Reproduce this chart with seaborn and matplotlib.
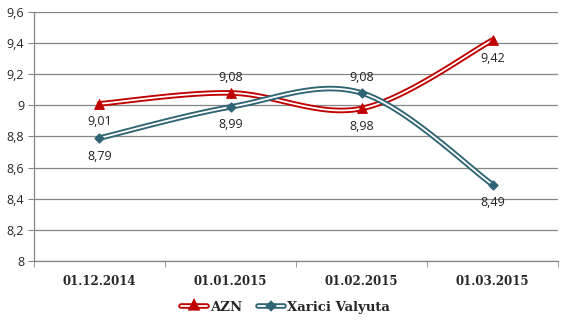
import numpy as np
import matplotlib
matplotlib.use("Agg")
import matplotlib.pyplot as plt
import matplotlib.patheffects as pe
from matplotlib.lines import Line2D
import seaborn as sns

categories = ["01.12.2014", "01.01.2015", "01.02.2015", "01.03.2015"]
azn = [9.01, 9.08, 8.98, 9.42]
xarici = [8.79, 8.99, 9.08, 8.49]
azn_label_pos = ["below", "above", "below", "below"]
xarici_label_pos = ["below", "below", "above", "below"]
y_ticks = [8.0, 8.2, 8.4, 8.6, 8.8, 9.0, 9.2, 9.4, 9.6]

RED = "#C00000"
TEAL = "#2F6474"
GRID = "#868686"

sns.set_style("white")
plt.rcParams["font.family"] = ["Open Sans", "DejaVu Sans"]


def smooth(xv, yv, n=40):
    """Bezier smoothing (Excel-like) through given points, for drawing."""
    xv = np.asarray(xv, float)
    yv = np.asarray(yv, float)
    pts = np.column_stack([xv, yv])
    m = len(pts)
    out = []
    for i in range(m - 1):
        p0 = pts[max(i - 1, 0)]
        p1 = pts[i]
        p2 = pts[i + 1]
        p3 = pts[min(i + 2, m - 1)]
        c1 = p1 + (p2 - p0) / 6.0
        c2 = p2 - (p3 - p1) / 6.0
        t = np.linspace(0, 1, n)[:, None]
        seg = ((1 - t) ** 3) * p1 + 3 * ((1 - t) ** 2) * t * c1 + 3 * (1 - t) * t ** 2 * c2 + t ** 3 * p2
        if i > 0:
            seg = seg[1:]
        out.append(seg)
    out = np.vstack(out)
    return out[:, 0], out[:, 1]


fig = plt.figure(figsize=(5.65, 3.25), dpi=100)
ax = fig.add_axes([0.060, 0.197, 0.928, 0.766])

x = np.arange(len(categories))

series = [
    ("AZN", azn, RED, "^", azn_label_pos, 48),
    ("Xarici Valyuta", xarici, TEAL, "D", xarici_label_pos, 22),
]

handles = []
for name, vals, col, mk, lpos, ms in series:
    sx, sy = smooth(x, vals)
    sns.lineplot(x=sx, y=sy, ax=ax, sort=False, color="white", lw=1.3,
                 path_effects=[pe.Stroke(linewidth=4.0, foreground=col), pe.Normal()],
                 zorder=3)
    sns.scatterplot(x=x, y=vals, ax=ax, marker=mk, s=ms, color=col,
                    edgecolor=col, linewidth=0.8, zorder=4)
    for xi, v, p in zip(x, vals, lpos):
        off = 11 if p == "above" else -13
        ax.annotate(f"{v:.2f}".replace(".", ","), (xi, v), xytext=(0, off),
                    textcoords="offset points", ha="center", va="center",
                    fontsize=9, color="#222222", zorder=5)
    handles.append(Line2D([], [], color="white", lw=1.3, marker=mk,
                          markersize=2.6 if mk == "^" else 1.8,
                          markerfacecolor=col, markeredgecolor=col,
                          path_effects=[pe.Stroke(linewidth=4.0, foreground=col), pe.Normal()],
                          label=name))

ax.set_xlim(-0.5, len(categories) - 0.5)
ax.set_ylim(8.0, 9.6)
ax.set_yticks(y_ticks)
ax.set_yticklabels([("%g" % t).replace(".", ",") for t in y_ticks], fontsize=9)
ax.set_xticks(x)
ax.set_xticklabels(categories, fontsize=8.5, fontweight="bold", family=["DejaVu Serif"])
ax.set_xticks(np.arange(-0.5, len(categories)), minor=True)
ax.tick_params(axis="x", which="major", length=0, pad=10)
ax.tick_params(axis="x", which="minor", length=4, color=GRID, direction="out", bottom=True)
ax.tick_params(axis="y", length=4, color=GRID, direction="out", left=True, pad=3)

ax.grid(axis="y", color=GRID, lw=0.9)
ax.grid(axis="x", visible=False)
ax.set_axisbelow(True)
for s in ["top", "right"]:
    ax.spines[s].set_visible(False)
for s in ["left", "bottom"]:
    ax.spines[s].set_color(GRID)
    ax.spines[s].set_linewidth(0.9)
ax.set_xlabel("")
ax.set_ylabel("")

leg = fig.legend(handles=handles, loc="center", bbox_to_anchor=(0.505, 0.055), ncol=2,
                 frameon=False, handlelength=2.0, handletextpad=0.2, columnspacing=1.2,
                 prop={"family": "DejaVu Serif", "weight": "bold", "size": 9.5})

fig.savefig("out.png", dpi=100)
